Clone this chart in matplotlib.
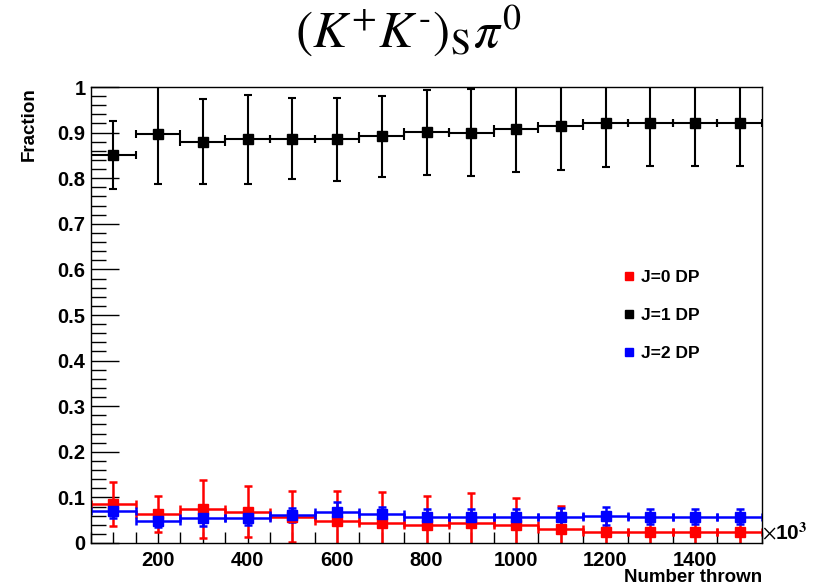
import matplotlib
matplotlib.use('Agg')
import matplotlib.pyplot as plt
from matplotlib.lines import Line2D
from matplotlib.ticker import MultipleLocator

# values (x in units of 10^3)
n_thrown = [100, 200, 300, 400, 500, 600, 700, 800, 900, 1000, 1100, 1200, 1300, 1400, 1500]
bin_half = 50

j0 = [0.0855, 0.064, 0.074, 0.069, 0.058, 0.048, 0.043, 0.039, 0.043, 0.039, 0.031, 0.025, 0.025, 0.025, 0.024]
j0_err = [0.049, 0.040, 0.064, 0.055, 0.056, 0.066, 0.068, 0.064, 0.066, 0.059, 0.050, 0.028, 0.027, 0.027, 0.026]

j1 = [0.851, 0.898, 0.880, 0.885, 0.887, 0.885, 0.892, 0.901, 0.900, 0.909, 0.914, 0.920, 0.920, 0.920, 0.920]
j1_err = [0.074, 0.111, 0.093, 0.097, 0.089, 0.091, 0.089, 0.093, 0.095, 0.095, 0.095, 0.095, 0.093, 0.093, 0.093]

j2 = [0.070, 0.048, 0.054, 0.054, 0.061, 0.069, 0.064, 0.058, 0.056, 0.056, 0.058, 0.059, 0.058, 0.058, 0.058]
j2_err = [0.015, 0.013, 0.016, 0.015, 0.016, 0.020, 0.016, 0.017, 0.018, 0.018, 0.018, 0.020, 0.017, 0.017, 0.017]

labels = ['J=0 DP', 'J=1 DP', 'J=2 DP']
colors = ['#ff0000', '#000000', '#0000ff']

plt.rcParams['font.family'] = ['Liberation Sans', 'DejaVu Sans']
plt.rcParams['mathtext.fontset'] = 'stix'

fig = plt.figure(figsize=(8.16, 5.86), dpi=100)
ax = fig.add_axes([0.1115, 0.0734, 0.8225, 0.7781])

style = dict(fmt='s', markersize=6.5, elinewidth=1.8, capsize=3, capthick=1.8)
ax.errorbar(n_thrown, j0, yerr=j0_err, xerr=bin_half, color=colors[0], **style)
ax.errorbar(n_thrown, j2, yerr=j2_err, xerr=bin_half, color=colors[2], **style)
ax.errorbar(n_thrown, j1, yerr=j1_err, xerr=bin_half, color=colors[1], fmt='s',
            markersize=6.5, elinewidth=1.5, capsize=3, capthick=1.5)

ax.set_xlim(50, 1550)
ax.set_ylim(0, 1)

ax.xaxis.set_minor_locator(MultipleLocator(50))
ax.yaxis.set_minor_locator(MultipleLocator(0.02))
ax.set_yticks([0, 0.1, 0.2, 0.3, 0.4, 0.5, 0.6, 0.7, 0.8, 0.9, 1.0])
ax.set_yticklabels(['0', '0.1', '0.2', '0.3', '0.4', '0.5', '0.6', '0.7', '0.8', '0.9', '1'])
ax.set_xticks([200, 400, 600, 800, 1000, 1200, 1400])

ax.tick_params(axis='both', which='both', direction='in', top=False, right=False,
               labelsize=14.5, width=1.0)
ax.tick_params(axis='y', which='major', length=20, pad=4)
ax.tick_params(axis='y', which='minor', length=11)
ax.tick_params(axis='x', which='major', length=10, pad=6)
ax.tick_params(axis='x', which='minor', length=8)
for lab in ax.get_xticklabels() + ax.get_yticklabels():
    lab.set_fontweight('bold')
for sp in ax.spines.values():
    sp.set_linewidth(1.0)

ax.set_xlabel('Number thrown', fontsize=13.5, fontweight='bold', loc='right', labelpad=-1)
ax.set_ylabel('Fraction', fontsize=13.5, fontweight='bold', loc='top', labelpad=14)

ax.text(1.0, 0.0, r'$\times$10$^{\mathbf{3}}$', transform=ax.transAxes, fontsize=15,
        ha='left', va='bottom', fontweight='bold')

handles = [Line2D([], [], marker='s', linestyle='none', color=c, markersize=6) for c in colors]
ax.legend(handles, labels, loc='upper left', bbox_to_anchor=(0.77, 0.633), frameon=False,
          handlelength=0.6, handletextpad=0.4, labelspacing=1.3,
          prop={'weight': 'bold', 'size': 12.5})

fig.text(0.5, 1 - 48 / 586, r'$(K^{+}K^{\text{-}})_{\mathrm{S}}\pi^{0}$', fontsize=37,
         ha='center', va='baseline', fontweight='normal')

fig.savefig('out.png', dpi=100)
